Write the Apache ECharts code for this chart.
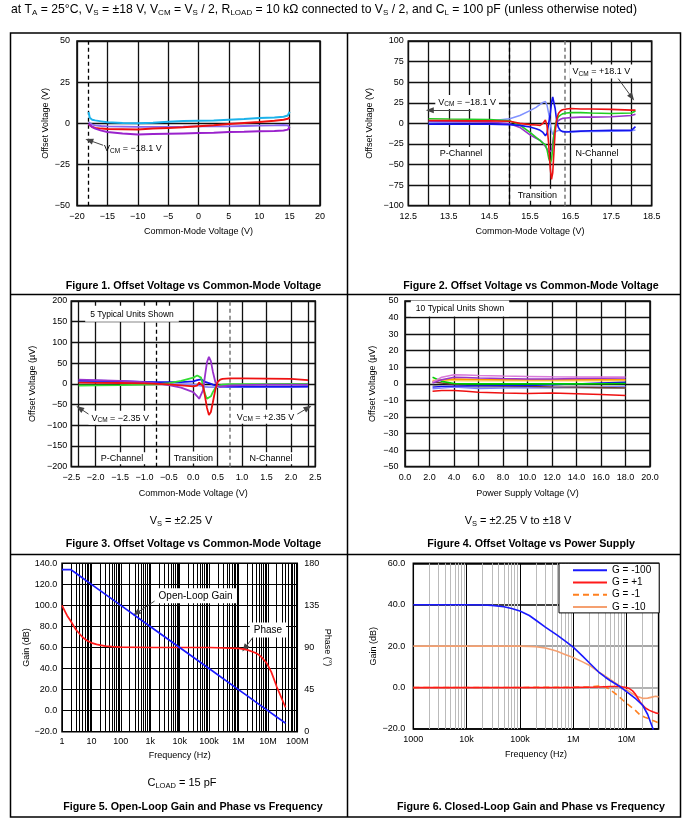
<!DOCTYPE html>
<html>
<head>
<meta charset="utf-8">
<script src="https://cdn.jsdelivr.net/npm/echarts@6.0.0/dist/echarts.min.js"></script>
<style>
html,body{margin:0;padding:0;background:#fff;}
#c{width:697px;height:824px;}
</style>
</head>
<body>
<div id="c"></div>
<script>
// ---------------- DATA ----------------
// Figure 1: Offset voltage vs common-mode voltage (Vs = ±18 V)
const f1X      = [-18.1, -17.9, -17.5, -17, -16, -15, -12.5, -10, -7.5, -5, -2.5, 0, 2.5, 5, 7.5, 10, 12.5, 14, 14.7, 15];
const f1Cyan   = [6.9, 3.4, 2.2, 1.8, 1.2, 0.6, 0.2, 0, 0.4, 1.0, 1.4, 1.6, 1.8, 2.2, 2.6, 3.2, 3.6, 4.0, 4.8, 7.0];
const f1Violet = [0.6, -0.3, -0.8, -1.2, -1.6, -1.8, -2.0, -2.2, -2.2, -2.1, -2.0, -1.8, -1.8, -1.8, -1.6, -1.4, -1.2, -1.0, -1.2, -2.8];
const f1Red    = [-0.5, -1.5, -2.2, -2.8, -3.2, -3.4, -3.6, -3.8, -3.2, -2.8, -2.4, -1.8, -1.2, -0.4, 0.2, 0.8, 1.6, 2.2, 2.8, 3.4];
const f1Purple = [-0.4, -1.2, -2.2, -3.2, -4.4, -5.3, -6.1, -6.7, -6.5, -6.3, -6.1, -5.9, -5.7, -5.3, -5.1, -4.8, -4.6, -4.4, -3.8, -2.2];

// Figure 2: zoom on transition region
const f2X      = [13.0, 13.5, 14.0, 14.5, 15.0, 15.25, 15.5, 15.65, 15.75, 15.82, 15.88, 15.92, 15.96, 16.0, 16.03, 16.06, 16.09, 16.12, 16.16, 16.2, 16.25, 16.3, 16.4, 16.5, 16.75, 17.0, 17.5, 18.0, 18.1];
const f2Green  = [5.5, 5.2, 5, 4.5, 3, -2, -11, -17, -21, -24, -26, -32, -42, -48, -44, -30, -14, -3, 4, 8, 10, 11.5, 12.5, 13, 13, 12.5, 12, 12.5, 15];
const f2Red    = [3.5, 3.3, 3, 3, 2.5, 0, -1.5, -2, -2.5, 0, 4, -3, -25, -55, -68, -60, -35, -10, 5, 12, 15, 16.5, 17.5, 18, 17.5, 17.5, 17, 16, 16];
const f2Blue   = [-1, -1, -1, -1, -1.5, -2.5, -4.5, -6.5, -8.5, -11, -15, -12, 0, 12, 25, 32, 30, 18, 2, -5, -8.5, -10, -10.5, -10, -9.5, -9, -8.5, -8.5, -4];
const f2LtBlue = [0.5, 1, 1.5, 3, 5.5, 9.5, 15.5, 19.5, 23, 25.5, 26.5, 22, 12, 0, -9, -13.5, -13, -10.5, -9, -8.5, -9, -9.5, -10, -10.5, -10, -10, -9.5, -9, -8];
const f2Purple = [2.5, 2.3, 2, 1.5, -0.5, -5, -14, -18, -20.5, -24, -28, -31, -35, -36.5, -33, -24, -13, -5, 1, 3.5, 5, 6, 6.5, 7, 7.5, 7.5, 8, 9.5, 11];

// Figure 3: Vs = ±2.25 V
const f3X      = [-2.35, -2.0, -1.5, -1.0, -0.75, -0.5, -0.25, 0.0, 0.08, 0.12, 0.16, 0.2, 0.24, 0.28, 0.32, 0.36, 0.4, 0.45, 0.5, 0.55, 0.6, 0.75, 1.0, 1.5, 2.0, 2.35];
const f3Purple = [10, 9, 7, 4, 1, -3, -9, -20, -30, -36, -37, -15, 20, 52, 65, 55, 30, 5, -5, -7, -6, -4, -3, -2, -2, -2];
const f3Red    = [3, 2.5, 2, 1, 0, -1.5, -3.5, -6, -4, 3, 6, -5, -30, -58, -75, -68, -45, -15, 5, 10, 12, 13, 13, 12.5, 12, 9];
const f3Green  = [-4, -3.5, -3, -2, -1, 2, 7, 15, 20, 23, 15, -5, -25, -36, -37, -30, -20, -10, -5, -3, -2, -1, -1, -0.5, 0, 0];
const f3Blue   = [8, 7.5, 6.5, 5, 4, 4, 4, 6, 9, 10, 11, 8, 5, 3, 2, 0, -2, -4, -5, -6, -6, -6.5, -6.5, -6.5, -6.5, -6];
const f3LtBlue = [6, 5, 4, 2, 1, 0, -1, -2, -3, -4, -5, -6, -7, -8, -8, -8, -8, -8, -8, -8, -8, -8, -8, -8, -8, -8];

// Figure 4: offset vs power supply (10 units)
const f4X      = [2.25, 3, 4, 5, 6, 8, 10, 12, 14, 16, 18];
const f4Orchid = [1, 4, 5.5, 5.3, 5, 4.7, 4.5, 4.3, 4.2, 4.2, 4.2];
const f4Purple = [0.5, 2.5, 4, 3.8, 3.5, 3.2, 3, 3, 3.2, 3.4, 3.6];
const f4Orange = [1.5, 2.5, 3, 2.8, 2.6, 2.5, 2.5, 2.5, 2.5, 2.5, 2.5];
const f4Yellow = [2.2, 2, 2, 1.9, 1.8, 1.8, 1.8, 1.8, 1.8, 1.8, 1.8];
const f4Green  = [4, 1.5, 0.2, 0, 0, 0, 0, 0, 0, 0.1, 0.2];
const f4Brown  = [1.2, 0.5, -0.4, -0.8, -1, -1.3, -1.5, -1.8, -2, -2.2, -2.4];
const f4Blue   = [-2, -1.5, -1.4, -1.3, -1.2, -1.1, -1, -0.5, 0, 0.5, 1];
const f4LtBlue = [-3, -2.5, -2, -2.4, -2.8, -2.6, -2.4, -2.2, -2, -1.8, -1.5];
const f4Gray   = [-1, -1.5, -1.8, -2, -2, -2, -2.2, -2.4, -2.4, -2.5, -2.6];
const f4Red    = [-4.4, -4, -4, -4.5, -5, -5.5, -5.8, -5.5, -6, -6.5, -7];

// Figure 5: open-loop gain & phase
const f5Freq   = [1, 2, 3, 5, 10, 30, 100, 1e3, 1e4, 1e5, 1e6, 2e6, 3e6, 5e6, 1e7, 2e7, 3e7, 4e7];
const f5Gain   = [134, 134, 130.5, 126, 120, 110.5, 100, 80, 60, 40, 20, 14, 10.5, 6, 0, -6, -9.5, -12];
const f5PhaseF = [1, 1.25, 1.5, 2, 2.5, 3, 4, 5, 7, 10, 15, 20, 30, 50, 100, 1e3, 1e4, 1e5, 1e6, 1.5e6, 2e6, 3e6, 4e6, 5e6, 6e6, 7e6, 8.5e6, 1e7, 1.3e7, 1.6e7, 2e7, 2.5e7, 3e7, 3.5e7, 4e7];
const f5Phase  = [135, 129, 124, 118, 113, 109, 104.5, 101, 97.5, 95, 93.3, 92.5, 91.5, 90.9, 90.5, 90, 90, 90, 89, 88.3, 87.5, 85.5, 84, 82, 79.8, 77.5, 74.5, 71, 64, 56.5, 48, 41, 35, 30, 26];
const f5TickLabels = ['1', '10', '100', '1k', '10k', '100k', '1M', '10M', '100M'];

// Figure 6: closed-loop gain
const f6BlueF = [1e3, 1e4, 2e4, 3e4, 5e4, 7e4, 1e5, 1.5e5, 2e5, 3e5, 5e5, 7e5, 1e6, 1.5e6, 2e6, 3e6, 4e6, 5e6, 7.5e6, 1e7, 1.5e7, 2e7, 2.5e7, 2.8e7, 3.2e7];
const f6Blue  = [40, 40, 39.9, 39.7, 39, 38.2, 37, 34.8, 32.5, 29.2, 25.3, 22.5, 19.5, 15.2, 12, 7.5, 5, 3.3, 0.5, -2, -5.5, -8.5, -13, -16.5, -20.5];
const f6RedF  = [1e3, 1e6, 3e6, 5e6, 7e6, 8.5e6, 1e7, 1.15e7, 1.3e7, 1.45e7, 1.6e7, 1.8e7, 2e7, 2.3e7, 2.7e7, 3.1e7, 3.5e7, 4e7];
const f6Red   = [0, 0.1, 0.3, 0.5, 0.5, 0.3, 0, -0.6, -1.6, -3, -4.8, -6.9, -8.5, -10, -11, -11.7, -12.2, -12.5];
const f6OrF   = [1e3, 1e6, 2e6, 3e6, 3.5e6, 4e6, 4.5e6, 5e6, 6e6, 7e6, 8.5e6, 1e7, 1.2e7, 1.4e7, 1.6e7, 1.8e7, 2.2e7, 2.5e7, 3e7, 3.5e7, 4e7];
const f6Or    = [0, 0.1, 0.4, 0.7, 0.6, 0.3, -0.4, -1.2, -2.7, -4, -6, -7.6, -9.2, -10.5, -12, -13.2, -14.3, -14.8, -15.7, -16.4, -17];
const f6SalF  = [1e3, 1e5, 1.5e5, 2e5, 3e5, 4e5, 5e5, 7e5, 1e6, 1.5e6, 2e6, 3e6, 4e6, 5e6, 7e6, 1e7, 1.3e7, 1.6e7, 2e7, 2.5e7, 3e7, 3.5e7, 4e7];
const f6Sal   = [20, 20, 19.9, 19.7, 19.1, 18.3, 17.5, 16, 14.5, 12.4, 10.8, 7.6, 5.5, 3.8, 1.3, -1, -3, -4.3, -5.2, -5.1, -4.6, -4.2, -4.5];
const f6TickLabels = ['1000', '10k', '100k', '1M', '10M'];
const f6Names = ['G = -100', 'G = +1', 'G = -1', 'G = -10'];

// log-grid minor multipliers
const logSteps = [2, 3, 4, 5, 6, 7, 8, 9];

// ---------------- HELPERS ----------------
const FONT = '"Liberation Sans", Arial, Helvetica, sans-serif';
function signed(v, d) {
  let a = Math.abs(v) < 1e-9 ? 0 : v;
  return (a < 0 ? '\u2212' : '') + Math.abs(a).toFixed(d);
}
function zip(xs, ys) { return xs.map((x, i) => [x, ys[i]]); }
function logLbl(labels, e0) {
  return function (v) {
    const e = Math.log10(v), r = Math.round(e);
    return Math.abs(e - r) < 1e-6 ? (labels[r - e0] || '') : '';
  };
}
function minorLines(e0, e1, maxV) {
  const out = [];
  for (let e = e0; e <= e1; e++) {
    logSteps.forEach(m => { const v = m * Math.pow(10, e); if (v < maxV * 0.999) out.push({ xAxis: v }); });
  }
  return out;
}
const GRID_LINE = { color: '#111', width: 1.3 };
function axis(o) {
  const base = {
    axisLine: { show: false }, axisTick: { show: false },
    splitLine: { show: true, lineStyle: GRID_LINE },
    axisLabel: { color: '#000', fontSize: 9, fontFamily: FONT, margin: 6, showMinLabel: true, showMaxLabel: true },
    nameLocation: 'middle',
    nameTextStyle: { color: '#000', fontSize: 9, fontFamily: FONT }
  };
  const r = Object.assign({}, base, o);
  r.axisLabel = Object.assign({}, base.axisLabel, o.axisLabel || {});
  r.splitLine = Object.assign({}, base.splitLine, o.splitLine || {});
  r.nameTextStyle = Object.assign({}, base.nameTextStyle, o.nameTextStyle || {});
  return r;
}
function ser(name, xi, yi, xs, ys, color, width, extra) {
  return Object.assign({
    type: 'line', name: name, xAxisIndex: xi, yAxisIndex: yi, data: zip(xs, ys),
    showSymbol: false, symbol: 'none', silent: true, animation: false, z: 6,
    lineStyle: { color: color, width: width }, itemStyle: { color: color }
  }, extra || {});
}
const RICH9 = { s: { fontSize: 6.5, padding: [4, 0, 0, 0], color: '#000', fontFamily: FONT } };
function marks(items) {
  return {
    symbol: 'rect', symbolSize: 1, silent: true, animation: false,
    itemStyle: { color: 'rgba(0,0,0,0)' },
    label: { show: true, position: 'inside', color: '#000', fontSize: 9, fontFamily: FONT,
      backgroundColor: '#fff', padding: [2, 3, 1, 3], rich: RICH9 },
    data: items.map(it => ({ coord: it[0], label: Object.assign({ formatter: it[1] }, it[2] || {}) }))
  };
}
function arrows(list) {
  return {
    silent: true, animation: false, symbol: ['none', 'none'], label: { show: false },
    lineStyle: { color: '#444', width: 1, type: 'solid' },
    data: list.map(a => [{ coord: a[0], symbol: 'none' }, { coord: a[1], symbol: 'triangle', symbolSize: [6, 8] }])
  };
}
function refSeries(name, xi, yi, lines) {
  return {
    type: 'line', name: name, xAxisIndex: xi, yAxisIndex: yi, data: [], silent: true, animation: false, z: 1,
    markLine: { silent: true, z: 1, animation: false, symbol: ['none', 'none'], label: { show: false },
      lineStyle: { color: '#000', width: 1, type: 'solid' }, data: lines }
  };
}
const DASH_K = { type: [4, 3], color: '#000', width: 1.3 };
const DASH_G = { type: [4, 3], color: '#777', width: 1.5 };
const SOLID_K = { type: 'solid', color: '#111', width: 1.3 };

// ---------------- CHART ----------------
const chart = echarts.init(document.getElementById('c'), null, { renderer: 'canvas', width: 697, height: 824 });

const gridBase = { show: true, borderColor: '#000', borderWidth: 1.5, backgroundColor: '#fff', containLabel: false, outerBoundsMode: 'none' };
const grids = [
  Object.assign({ left: 77, top: 41, width: 243, height: 164.7 }, gridBase),
  Object.assign({ left: 408.3, top: 41, width: 243.4, height: 164.7 }, gridBase),
  Object.assign({ left: 71.3, top: 301, width: 244, height: 165.7 }, gridBase),
  Object.assign({ left: 405, top: 301, width: 245, height: 165.7 }, gridBase),
  Object.assign({ left: 62, top: 563.3, width: 235.3, height: 168.4 }, gridBase),
  Object.assign({ left: 413.3, top: 563.3, width: 245.3, height: 165.7 }, gridBase)
];

const xAxes = [
  axis({ type: 'value', gridIndex: 0, min: -20, max: 20, interval: 5, name: 'Common-Mode Voltage (V)', nameGap: 21,
    axisLabel: { formatter: v => signed(v, 0) } }),
  axis({ type: 'value', gridIndex: 1, min: 12.5, max: 18.5, interval: 0.5, name: 'Common-Mode Voltage (V)', nameGap: 21,
    axisLabel: { formatter: v => { const k = v - 12.5; return Math.abs(k - Math.round(k)) < 1e-6 ? v.toFixed(1) : ''; } } }),
  axis({ type: 'value', gridIndex: 2, min: -2.5, max: 2.5, interval: 0.5, name: 'Common-Mode Voltage (V)', nameGap: 22,
    axisLabel: { formatter: v => signed(v, 1) } }),
  axis({ type: 'value', gridIndex: 3, min: 0, max: 20, interval: 2, name: 'Power Supply Voltage (V)', nameGap: 22,
    axisLabel: { formatter: v => signed(v, 1) } }),
  axis({ type: 'log', logBase: 10, gridIndex: 4, min: 1, max: 1e8, splitNumber: 8, name: 'Frequency (Hz)', nameGap: 19,
    axisLabel: { formatter: logLbl(f5TickLabels, 0), margin: 5 }, splitLine: { lineStyle: { color: '#000', width: 1 } } }),
  axis({ type: 'log', logBase: 10, gridIndex: 5, min: 1000, max: 4e7, splitNumber: 5, name: 'Frequency (Hz)', nameGap: 21.5,
    axisLabel: { formatter: logLbl(f6TickLabels, 3), margin: 6 }, splitLine: { lineStyle: { color: '#000', width: 1 } } })
];
const yAxes = [
  axis({ type: 'value', gridIndex: 0, min: -50, max: 50, interval: 25, name: 'Offset Voltage (V)', nameGap: 26.5,
    axisLabel: { formatter: v => signed(v, 0), margin: 7 } }),
  axis({ type: 'value', gridIndex: 1, min: -100, max: 100, interval: 25, name: 'Offset Voltage (V)', nameGap: 34,
    axisLabel: { formatter: v => signed(v, 0), margin: 4.5 } }),
  axis({ type: 'value', gridIndex: 2, min: -200, max: 200, interval: 50, name: 'Offset Voltage (\u00B5V)', nameGap: 34,
    axisLabel: { formatter: v => signed(v, 0), margin: 4 } }),
  axis({ type: 'value', gridIndex: 3, min: -50, max: 50, interval: 10, name: 'Offset Voltage (\u00B5V)', nameGap: 27.5,
    axisLabel: { formatter: v => signed(v, 0), margin: 6.5 } }),
  axis({ type: 'value', gridIndex: 4, min: -20, max: 140, interval: 20, name: 'Gain (dB)', nameGap: 29.5,
    axisLabel: { formatter: v => signed(v, 1), margin: 4.7 }, splitLine: { lineStyle: { color: '#000', width: 1.2 } } }),
  axis({ type: 'value', gridIndex: 4, position: 'right', min: 0, max: 180, interval: 45, name: 'Phase (\u00B0)', nameGap: 24, nameRotate: -90,
    axisLabel: { formatter: v => signed(v, 0), margin: 7 }, splitLine: { show: false } }),
  axis({ type: 'value', gridIndex: 5, min: -20, max: 60, interval: 20, name: 'Gain (dB)', nameGap: 35,
    axisLabel: { formatter: v => signed(v, 1), margin: 8 },
    splitLine: { lineStyle: { color: ['#000', '#999', '#888', '#000', '#000'], width: 1.5 } } })
];

const series = [
  // ----- Figure 1
  refSeries('_r1', 0, 0, [{ xAxis: -18.1, lineStyle: DASH_K }]),
  ser('f1 cyan', 0, 0, f1X, f1Cyan, '#1cb2ea', 2),
  ser('f1 violet', 0, 0, f1X, f1Violet, '#8a66f0', 1.8),
  ser('f1 red', 0, 0, f1X, f1Red, '#ee1111', 2),
  ser('f1 purple', 0, 0, f1X, f1Purple, '#9a22cc', 2, {
    markLine: arrows([[[-15.7, -13.3], [-18.0, -10.3]]]),
    markPoint: marks([[[-10.8, -15.2], 'V{s|CM} = \u221218.1 V', { backgroundColor: 'rgba(0,0,0,0)' }]])
  }),
  // ----- Figure 2
  refSeries('_r2', 1, 1, [{ xAxis: 15.0, lineStyle: DASH_K }, { xAxis: 16.35, lineStyle: DASH_G }]),
  ser('f2 ltblue', 1, 1, f2X, f2LtBlue, '#8092ff', 1.5),
  ser('f2 purple', 1, 1, f2X, f2Purple, '#9933cc', 1.6),
  ser('f2 green', 1, 1, f2X, f2Green, '#22cc22', 1.6),
  ser('f2 blue', 1, 1, f2X, f2Blue, '#1414ee', 1.6),
  ser('f2 red', 1, 1, f2X, f2Red, '#ee1111', 1.6, {
    markLine: arrows([[[17.67, 54.6], [18.01, 31.6]], [[14.06, 15.8], [13.03, 15.8]]]),
    markPoint: marks([
      [[17.26, 63.1], 'V{s|CM} = +18.1 V'],
      [[13.95, 25.9], 'V{s|CM} = \u221218.1 V'],
      [[13.8, -36], 'P-Channel'],
      [[17.15, -36], 'N-Channel'],
      [[15.68, -86.6], 'Transition']
    ])
  }),
  // ----- Figure 3
  refSeries('_r3', 2, 2, [{ xAxis: -2.35, lineStyle: SOLID_K }, { xAxis: 2.35, lineStyle: SOLID_K },
    { xAxis: -0.75, lineStyle: DASH_K }, { xAxis: 0.75, lineStyle: DASH_G }]),
  ser('f3 ltblue', 2, 2, f3X, f3LtBlue, '#8888ff', 1.8),
  ser('f3 blue', 2, 2, f3X, f3Blue, '#1414ee', 1.8),
  ser('f3 green', 2, 2, f3X, f3Green, '#33dd33', 1.8),
  ser('f3 purple', 2, 2, f3X, f3Purple, '#9933cc', 1.8),
  ser('f3 red', 2, 2, f3X, f3Red, '#ee1111', 1.8, {
    markLine: arrows([[[-2.123, -74.9], [-2.33, -58.7]], [[2.105, -74.9], [2.35, -58]]]),
    markPoint: marks([
      [[-1.256, 169], '5 Typical Units Shown', { fontSize: 8.5, padding: [4, 5, 3, 5] }],
      [[-1.496, -82], 'V{s|CM} = \u22122.35 V'],
      [[1.48, -79.7], 'V{s|CM} = +2.35 V'],
      [[-1.46, -179.5], 'P-Channel'],
      [[0.0, -178], 'Transition'],
      [[1.59, -179.5], 'N-Channel']
    ])
  }),
  // ----- Figure 4
  ser('f4 gray', 3, 3, f4X, f4Gray, '#8a8a8a', 1.4),
  ser('f4 yellow', 3, 3, f4X, f4Yellow, '#ffd060', 1.4),
  ser('f4 ltblue', 3, 3, f4X, f4LtBlue, '#8080ff', 1.4),
  ser('f4 brown', 3, 3, f4X, f4Brown, '#6b3a2a', 1.4),
  ser('f4 blue', 3, 3, f4X, f4Blue, '#1010ee', 1.4),
  ser('f4 green', 3, 3, f4X, f4Green, '#00d000', 1.6),
  ser('f4 orange', 3, 3, f4X, f4Orange, '#ff9900', 1.5),
  ser('f4 purple', 3, 3, f4X, f4Purple, '#9933cc', 1.5),
  ser('f4 orchid', 3, 3, f4X, f4Orchid, '#d97ad9', 1.5),
  ser('f4 red', 3, 3, f4X, f4Red, '#ee1111', 1.5, {
    markPoint: marks([[[4.49, 45.4], '10 Typical Units Shown', { fontSize: 8.5, padding: [4, 5, 3, 5] }]])
  }),
  // ----- Figure 5
  refSeries('_r5', 4, 4, minorLines(0, 7, 1e8).map(o => Object.assign(o, { lineStyle: { color: '#000', width: 1 } }))),
  ser('f5 phase', 4, 5, f5PhaseF, f5Phase, '#ff1a1a', 1.7),
  ser('f5 gain', 4, 4, f5Freq, f5Gain, '#1a1aff', 1.7, {
    markLine: arrows([[[1585, 105.1], [336, 92.5]], [[3.56e6, 71.9], [1.63e6, 59.2]]]),
    markPoint: marks([
      [[34700, 109.2], 'Open-Loop Gain', { fontSize: 10, padding: [3, 4, 2, 4] }],
      [[1e7, 76.6], 'Phase', { fontSize: 10, padding: [3, 4, 2, 4] }]
    ])
  }),
  // ----- Figure 6
  refSeries('_r6', 5, 6, minorLines(3, 7, 4e7).map(o => Object.assign(o, { lineStyle: { color: '#bbb', width: 1 } }))),
  ser(f6Names[3], 5, 6, f6SalF, f6Sal, '#f5a070', 1.6),
  ser(f6Names[2], 5, 6, f6OrF, f6Or, '#ff8020', 1.6, { lineStyle: { color: '#ff8020', width: 1.6, type: [6, 4] } }),
  ser(f6Names[1], 5, 6, f6RedF, f6Red, '#ff1a1a', 1.6),
  ser(f6Names[0], 5, 6, f6BlueF, f6Blue, '#1a1aff', 1.6)
];

const RICH_T = { s: { fontSize: 7.5, padding: [5, 0, 0, 0], fill: '#000', fontFamily: FONT } };
const RICH_H = { s: { fontSize: 8, padding: [5, 0, 0, 0], fill: '#000', fontFamily: FONT } };
function txt(x, y, text, o) {
  return { type: 'text', x: x, y: y, silent: true, z: 10,
    style: Object.assign({ text: text, fill: '#000', fontSize: 11, fontFamily: FONT, align: 'center', verticalAlign: 'middle', rich: RICH_T }, o || {}) };
}
const CAP = { fontWeight: 'bold', fontSize: 10.7 };
const graphics = [
  { type: 'rect', silent: true, shape: { x: 10.5, y: 33, width: 670, height: 784 }, style: { fill: 'none', stroke: '#000', lineWidth: 1.5 } },
  { type: 'line', silent: true, shape: { x1: 347.5, y1: 33, x2: 347.5, y2: 817 }, style: { stroke: '#000', lineWidth: 1.5 } },
  { type: 'line', silent: true, shape: { x1: 10.5, y1: 294.5, x2: 680.5, y2: 294.5 }, style: { stroke: '#000', lineWidth: 1.5 } },
  { type: 'line', silent: true, shape: { x1: 10.5, y1: 554.5, x2: 680.5, y2: 554.5 }, style: { stroke: '#000', lineWidth: 1.5 } },
  txt(11, 10, 'at T{s|A} = 25\u00B0C, V{s|S} = \u00B118 V, V{s|CM} = V{s|S} / 2, R{s|LOAD} = 10 k\u03A9 connected to V{s|S} / 2, and C{s|L} = 100 pF (unless otherwise noted)', { align: 'left', fontSize: 12.2, rich: RICH_H }),
  txt(193.5, 286, 'Figure 1. Offset Voltage vs Common-Mode Voltage', CAP),
  txt(531, 286, 'Figure 2. Offset Voltage vs Common-Mode Voltage', CAP),
  txt(181, 521, 'V{s|S} = \u00B12.25 V'),
  txt(518, 521, 'V{s|S} = \u00B12.25 V to \u00B118 V'),
  txt(193.5, 544.5, 'Figure 3. Offset Voltage vs Common-Mode Voltage', CAP),
  txt(531, 544.5, 'Figure 4. Offset Voltage vs Power Supply', CAP),
  txt(182, 783, 'C{s|LOAD} = 15 pF'),
  txt(193, 807, 'Figure 5. Open-Loop Gain and Phase vs Frequency', CAP),
  txt(531, 807, 'Figure 6. Closed-Loop Gain and Phase vs Frequency', CAP)
];

chart.setOption({
  animation: false,
  backgroundColor: '#fff',
  textStyle: { fontFamily: FONT },
  grid: grids,
  xAxis: xAxes,
  yAxis: yAxes,
  legend: {
    data: f6Names, orient: 'vertical', left: 559, top: 563.3, z: 20,
    backgroundColor: '#fff', borderColor: '#000', borderWidth: 1, borderRadius: 0,
    padding: [1, 8, 0, 13], itemWidth: 34, itemHeight: 12, itemGap: 0.2,
    itemStyle: { color: 'rgba(0,0,0,0)', opacity: 0, borderWidth: 0 },
    textStyle: { color: '#000', fontSize: 10, fontFamily: FONT, lineHeight: 12 },
    selectedMode: false
  },
  series: series,
  graphic: graphics
});
</script>
</body>
</html>
